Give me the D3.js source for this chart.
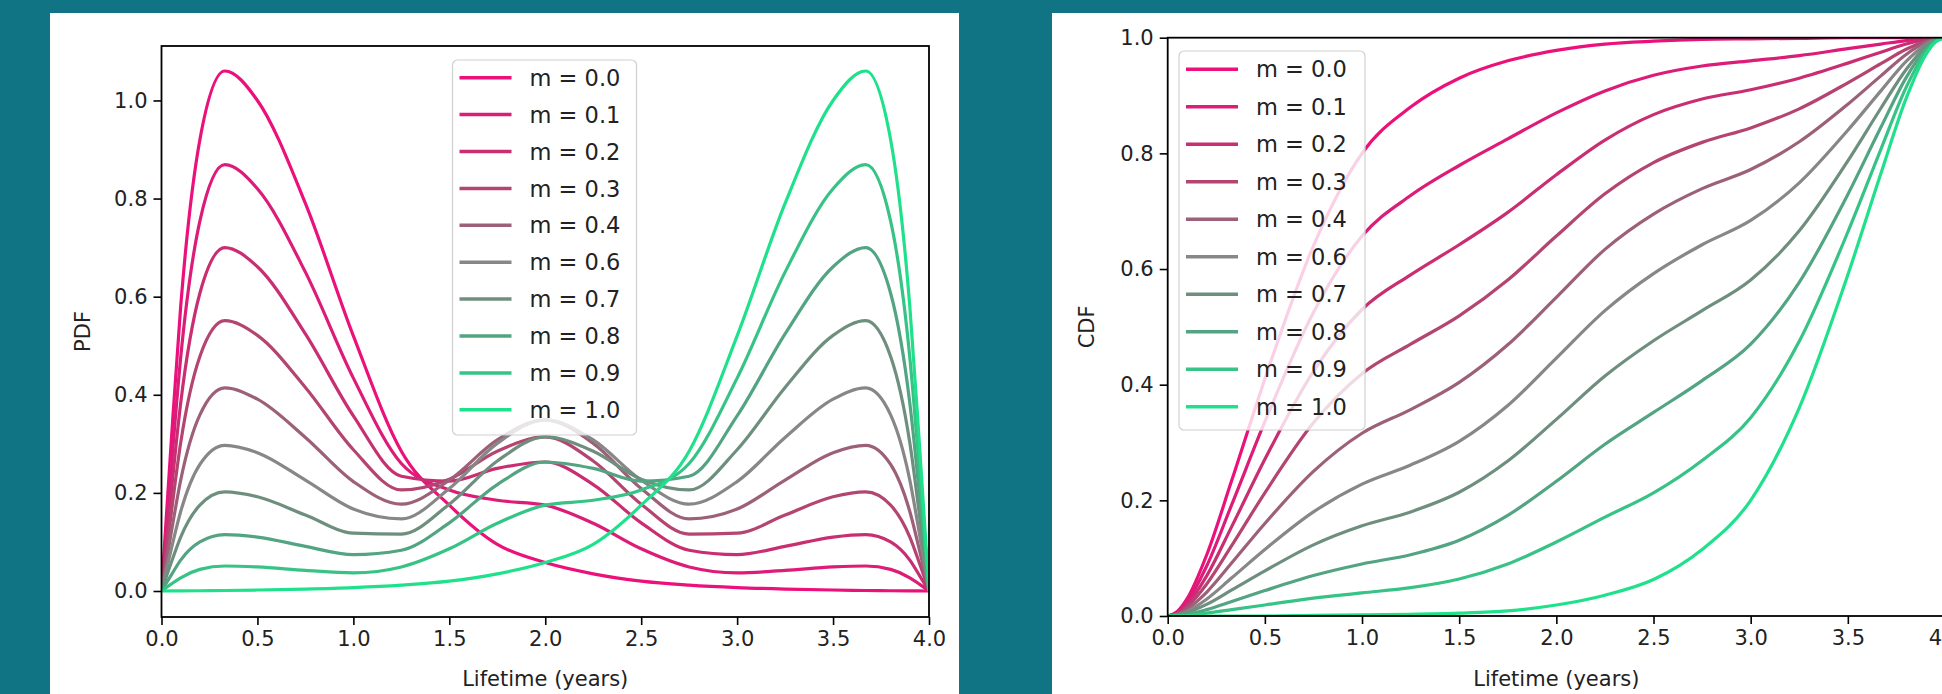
<!DOCTYPE html>
<html>
<head>
<meta charset="utf-8">
<script src="https://cdn.jsdelivr.net/npm/d3@7"></script>
<style>
  body { margin: 0; background: #107484; }
  svg { display: block; font-family: "DejaVu Sans", sans-serif; }
</style>
</head>
<body>
<svg id="chart" width="1942" height="694"></svg>
<script>
// lifetime samples (years)
const lifetime = [0, 0.05, 0.1, 0.2, 0.33, 0.5, 0.75, 1.0, 1.25, 1.5, 1.75, 2.0, 2.25, 2.5, 2.75, 3.0, 3.25, 3.5, 3.67, 3.8, 3.9, 3.95, 4.0]

const mLabels = ["0.0", "0.1", "0.2", "0.3", "0.4", "0.6", "0.7", "0.8", "0.9", "1.0"]
const lineColors = ["#ec107b", "#dc1c78", "#c92e72", "#b44470", "#9c6078", "#878787", "#6e8f7e", "#52a482", "#37c385", "#1fe18b"]

// PDF
const pdf_m00 = [0, 0.30, 0.58, 0.92, 1.06, 1.00, 0.79, 0.52, 0.285, 0.175, 0.095, 0.058, 0.035, 0.020, 0.012, 0.007, 0.004, 0.002, 0.001, 0.0005, 0.0002, 0.0001, 0]
const pdf_m01 = [0, 0.246, 0.476, 0.754, 0.869, 0.820, 0.650, 0.434, 0.260, 0.206, 0.185, 0.175, 0.138, 0.086, 0.049, 0.037, 0.042, 0.049, 0.051, 0.044, 0.027, 0.014, 0]
const pdf_m02 = [0, 0.198, 0.383, 0.607, 0.700, 0.661, 0.524, 0.357, 0.234, 0.224, 0.250, 0.263, 0.217, 0.139, 0.083, 0.074, 0.091, 0.110, 0.115, 0.100, 0.063, 0.032, 0]
const pdf_m03 = [0, 0.156, 0.302, 0.478, 0.551, 0.521, 0.415, 0.288, 0.206, 0.228, 0.285, 0.314, 0.265, 0.177, 0.116, 0.118, 0.155, 0.192, 0.202, 0.175, 0.110, 0.057, 0]
const pdf_m04 = [0, 0.117, 0.226, 0.359, 0.414, 0.391, 0.313, 0.223, 0.177, 0.226, 0.308, 0.349, 0.301, 0.209, 0.147, 0.167, 0.226, 0.282, 0.297, 0.258, 0.162, 0.084, 0]
const pdf_m06 = [0, 0.084, 0.162, 0.258, 0.297, 0.282, 0.226, 0.167, 0.147, 0.209, 0.301, 0.349, 0.308, 0.226, 0.177, 0.223, 0.313, 0.391, 0.414, 0.359, 0.226, 0.117, 0]
const pdf_m07 = [0, 0.057, 0.110, 0.175, 0.202, 0.192, 0.155, 0.118, 0.116, 0.177, 0.265, 0.314, 0.285, 0.228, 0.206, 0.288, 0.415, 0.521, 0.551, 0.478, 0.302, 0.156, 0]
const pdf_m08 = [0, 0.032, 0.063, 0.100, 0.115, 0.110, 0.091, 0.074, 0.083, 0.139, 0.217, 0.263, 0.250, 0.224, 0.234, 0.357, 0.524, 0.661, 0.700, 0.607, 0.383, 0.198, 0]
const pdf_m09 = [0, 0.014, 0.027, 0.044, 0.051, 0.049, 0.042, 0.037, 0.049, 0.086, 0.138, 0.175, 0.185, 0.206, 0.260, 0.434, 0.650, 0.820, 0.869, 0.754, 0.476, 0.246, 0]
const pdf_m10 = [0, 0.0001, 0.0002, 0.0005, 0.001, 0.002, 0.004, 0.007, 0.012, 0.020, 0.035, 0.058, 0.095, 0.175, 0.285, 0.52, 0.79, 1.00, 1.06, 0.92, 0.58, 0.30, 0]

// CDF
const cdf_m00 = [0, 0.008, 0.03, 0.105, 0.235, 0.41, 0.64, 0.80, 0.88, 0.93, 0.96, 0.978, 0.989, 0.994, 0.997, 0.998, 0.999, 1, 1, 1, 1, 1, 1]
const cdf_m01 = [0, 0.007, 0.025, 0.086, 0.193, 0.336, 0.525, 0.657, 0.727, 0.779, 0.825, 0.870, 0.908, 0.935, 0.951, 0.960, 0.969, 0.981, 0.989, 0.995, 0.999, 1, 1]
const cdf_m02 = [0, 0.005, 0.020, 0.069, 0.155, 0.271, 0.423, 0.530, 0.590, 0.642, 0.698, 0.763, 0.823, 0.867, 0.894, 0.910, 0.930, 0.956, 0.975, 0.989, 0.997, 0.999, 1]
const cdf_m03 = [0, 0.004, 0.016, 0.055, 0.122, 0.213, 0.334, 0.419, 0.470, 0.519, 0.581, 0.657, 0.730, 0.784, 0.819, 0.844, 0.877, 0.922, 0.955, 0.980, 0.994, 0.998, 1]
const cdf_m04 = [0, 0.003, 0.012, 0.041, 0.092, 0.160, 0.250, 0.316, 0.357, 0.404, 0.469, 0.551, 0.634, 0.695, 0.739, 0.772, 0.820, 0.885, 0.934, 0.971, 0.992, 0.998, 1]
const cdf_m06 = [0, 0.002, 0.008, 0.029, 0.066, 0.115, 0.180, 0.228, 0.261, 0.302, 0.364, 0.446, 0.528, 0.592, 0.642, 0.684, 0.749, 0.840, 0.908, 0.959, 0.988, 0.997, 1]
const cdf_m07 = [0, 0.002, 0.006, 0.020, 0.045, 0.078, 0.123, 0.156, 0.180, 0.214, 0.268, 0.340, 0.415, 0.476, 0.528, 0.581, 0.666, 0.787, 0.878, 0.945, 0.984, 0.996, 1]
const cdf_m08 = [0, 0.001, 0.003, 0.011, 0.025, 0.044, 0.070, 0.090, 0.106, 0.131, 0.174, 0.233, 0.297, 0.352, 0.407, 0.470, 0.577, 0.729, 0.845, 0.931, 0.980, 0.995, 1]
const cdf_m09 = [0, 0.0004, 0.001, 0.005, 0.011, 0.019, 0.031, 0.040, 0.049, 0.064, 0.090, 0.128, 0.171, 0.213, 0.269, 0.343, 0.475, 0.664, 0.807, 0.914, 0.975, 0.993, 1]
const cdf_m10 = [0, 0, 0, 0, 0, 0, 0.001, 0.002, 0.003, 0.005, 0.009, 0.019, 0.036, 0.063, 0.115, 0.20, 0.36, 0.59, 0.765, 0.895, 0.97, 0.992, 1]

const xTicks = [0, 0.5, 1, 1.5, 2, 2.5, 3, 3.5, 4]
const yTicks = [0, 0.2, 0.4, 0.6, 0.8, 1.0]

const pdfSeries = [pdf_m00, pdf_m01, pdf_m02, pdf_m03, pdf_m04, pdf_m06, pdf_m07, pdf_m08, pdf_m09, pdf_m10]
const cdfSeries = [cdf_m00, cdf_m01, cdf_m02, cdf_m03, cdf_m04, cdf_m06, cdf_m07, cdf_m08, cdf_m09, cdf_m10]

const svg = d3.select('#chart')

// white slide cards behind each figure
svg.append('rect').attr('x', 50).attr('y', 13).attr('width', 909).attr('height', 690).attr('fill', '#fff')
svg.append('rect').attr('x', 1052).attr('y', 13).attr('width', 900).attr('height', 690).attr('fill', '#fff')

function drawPanel(p) {
    const g = svg.append('g')
    const x = d3.scaleLinear().domain([0, 4]).range([p.left, p.right])
    const y = d3.scaleLinear().domain(p.yDomain).range([p.bottom, p.top])

    const clipId = 'clip-' + p.name
    svg.append('clipPath').attr('id', clipId)
        .append('rect')
        .attr('x', p.left).attr('y', p.top)
        .attr('width', p.right - p.left).attr('height', p.bottom - p.top)

    const line = d3.line()
        .x((d, i) => x(lifetime[i]))
        .y(d => y(d))
        .curve(d3.curveMonotoneX)

    g.append('g').attr('clip-path', `url(#${clipId})`)
        .selectAll('path')
        .data(p.series)
        .join('path')
        .attr('d', d => line(d))
        .attr('fill', 'none')
        .attr('stroke', (d, i) => lineColors[i])
        .attr('stroke-width', 3.2)

    // axes
    const xAxis = g.append('g')
        .attr('transform', `translate(0,${p.bottom})`)
        .call(d3.axisBottom(x).tickValues(xTicks).tickFormat(d3.format('.1f')).tickSize(8).tickSizeOuter(0).tickPadding(6))
    const yAxis = g.append('g')
        .attr('transform', `translate(${p.left},0)`)
        .call(d3.axisLeft(y).tickValues(yTicks).tickFormat(d3.format('.1f')).tickSize(8).tickSizeOuter(0).tickPadding(6))
    for (const a of [xAxis, yAxis]) {
        a.select('.domain').remove()
        a.selectAll('.tick line').attr('stroke', '#000').attr('stroke-width', 1.6)
        a.selectAll('.tick text').attr('fill', '#222').attr('font-size', 21).attr('font-family', '"DejaVu Sans", sans-serif')
    }

    g.append('rect')
        .attr('x', p.left).attr('y', p.top)
        .attr('width', p.right - p.left).attr('height', p.bottom - p.top)
        .attr('fill', 'none').attr('stroke', '#000').attr('stroke-width', 1.8)

    g.append('text')
        .attr('x', (p.left + p.right) / 2).attr('y', p.xLabelY)
        .attr('text-anchor', 'middle').attr('font-size', 21).attr('fill', '#222')
        .text('Lifetime (years)')
    g.append('text')
        .attr('transform', `translate(${p.yLabelX},${(p.top + p.bottom) / 2}) rotate(-90)`)
        .attr('text-anchor', 'middle').attr('font-size', 21).attr('fill', '#222')
        .text(p.yLabel)

    // legend
    const lg = g.append('g').attr('transform', `translate(${p.legendX},${p.legendY})`)
    lg.append('rect')
        .attr('width', p.legendW).attr('height', p.legendH).attr('rx', 5)
        .attr('fill', '#fff').attr('fill-opacity', 0.8)
        .attr('stroke', '#d0d0d0').attr('stroke-width', 1.2)
    const items = lg.selectAll('g.item')
        .data(mLabels)
        .join('g')
        .attr('class', 'item')
        .attr('transform', (d, i) => `translate(0,${p.legendFirst + i * p.legendStep})`)
    items.append('line')
        .attr('x1', 7).attr('x2', 59)
        .attr('stroke', (d, i) => lineColors[i]).attr('stroke-width', 3.5)
    items.append('text')
        .attr('x', 77).attr('dy', '0.36em')
        .attr('font-size', 22.5).attr('fill', '#222')
        .text(d => `m = ${d}`)
}

drawPanel({
    name: 'pdf', left: 161.5, right: 929, top: 46, bottom: 617,
    yDomain: [-0.053, 1.111], series: pdfSeries, yLabel: 'PDF',
    xLabelY: 686, yLabelX: 90,
    legendX: 452.5, legendY: 60, legendW: 184, legendH: 375, legendFirst: 17.7, legendStep: 36.9
})

drawPanel({
    name: 'cdf', left: 1167.7, right: 1945, top: 37.7, bottom: 616,
    yDomain: [0, 1], series: cdfSeries, yLabel: 'CDF',
    xLabelY: 686, yLabelX: 1094,
    legendX: 1179, legendY: 51, legendW: 186, legendH: 379, legendFirst: 18.3, legendStep: 37.5
})
</script>
</body>
</html>
